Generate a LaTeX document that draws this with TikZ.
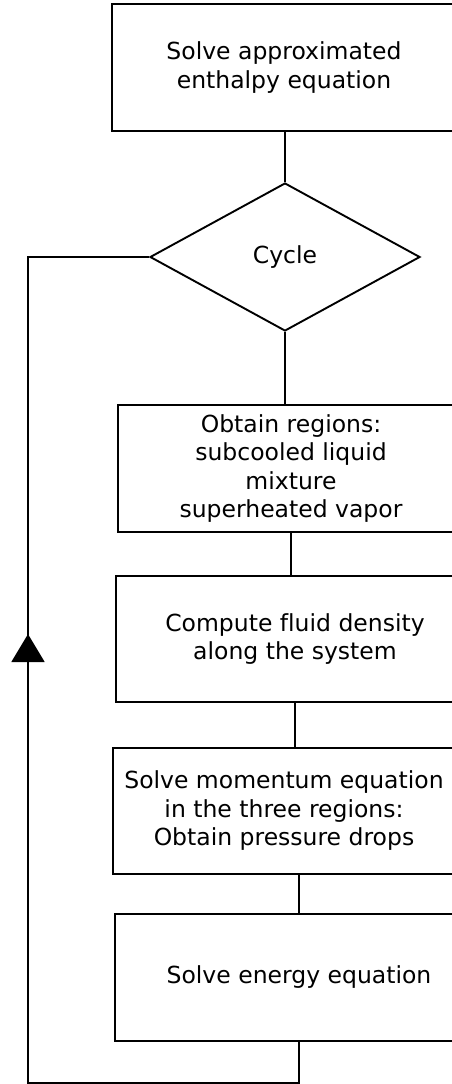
\documentclass[tikz,border=0pt]{standalone}
\usepackage{fontspec}
\setmainfont[Ligatures=NoCommon]{DejaVu Sans}
\usetikzlibrary{arrows.meta,positioning,shapes.geometric,decorations.markings}

\begin{document}
\begin{tikzpicture}[x=1pt,y=-1pt,line width=1.9pt,
    stepbox/.style={draw, rectangle, align=center, inner sep=0pt,
      font=\fontsize{23.5}{28.5}\selectfont},
    testbox/.style={draw, diamond, inner sep=0pt, minimum width=270pt,
      minimum height=148pt, font=\fontsize{23.5}{28.5}\selectfont}]
  \clip (0,0) rectangle (452,1084);

  % The steps
  \node[stepbox, minimum width=344pt, minimum height=127pt] (enth) at (284,67.5)
    {Solve approximated\\enthalpy equation};
  \node[testbox] (cyc) at (285,257) {Cycle};
  \node[stepbox, minimum width=346pt, minimum height=127pt] (regions) at (291,468.5)
    {Obtain regions:\\subcooled liquid\\mixture\\superheated vapor};
  \node[stepbox, minimum width=358pt, minimum height=126pt] (dens) at (295,639)
    {Compute fluid density\\along the system};
  \node[stepbox, minimum width=342pt, minimum height=126pt] (mom) at (284,811)
    {Solve momentum equation\\in the three regions:\\Obtain pressure drops};
  \node[stepbox, minimum width=368pt, minimum height=127pt] (energy) at (299,977.5)
    {Solve energy equation};

  % Connectors
  \draw (cyc.north |- enth.south) -- (cyc.north);
  \draw (cyc.south) -- (cyc.south |- regions.north);
  \draw (regions.south) -- (regions.south |- dens.north);
  \draw (dens.south) -- (dens.south |- mom.north);
  \draw (mom.south -| energy.north) -- (energy.north);

  % Back to the cycle test
  \coordinate (loopbot) at (28,1083);
  \draw[postaction={decorate}, decoration={markings,
      mark=at position 761pt with {\arrow{Triangle[width=33pt,length=28pt]}}}]
    (energy.south) |- (loopbot) |- (cyc.west);
\end{tikzpicture}
\end{document}
